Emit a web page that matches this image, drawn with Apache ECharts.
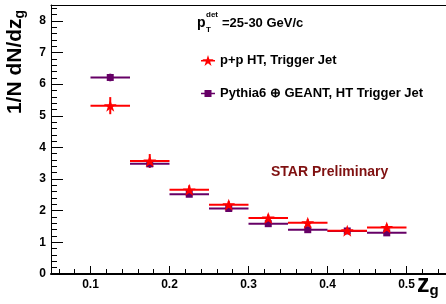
<!DOCTYPE html>
<html>
<head>
<meta charset="utf-8">
<script src="https://cdn.jsdelivr.net/npm/echarts@6/dist/echarts.min.js"></script>
<style>
  html, body { margin: 0; padding: 0; background: #fff; }
  #chart { width: 446px; height: 304px; }
</style>
</head>
<body>
<div id="chart"></div>
<script>
// bins in z_g
const binCenters = [0.125, 0.175, 0.225, 0.275, 0.325, 0.375, 0.425, 0.475]
const binHalfWidth = 0.025

// p+p HT, Trigger Jet
const ppValues = [5.32, 3.57, 2.66, 2.19, 1.77, 1.62, 1.37, 1.47]
const ppErrors = [0.27, 0.22, 0.14, 0.11, 0.11, 0.11, 0.08, 0.1]

// Pythia6 + GEANT
const simValues = [6.21, 3.48, 2.52, 2.07, 1.59, 1.40, 1.36, 1.30]
const simErrors = [0.12, 0.07, 0.05, 0.04, 0.04, 0.04, 0.04, 0.04]

const xMajor = [0.1, 0.2, 0.3, 0.4, 0.5]
const xMinor = [0.06, 0.08, 0.12, 0.14, 0.16, 0.18, 0.22, 0.24, 0.26, 0.28,
    0.32, 0.34, 0.36, 0.38, 0.42, 0.44, 0.46, 0.48, 0.52, 0.54]
const yMajor = [0, 1, 2, 3, 4, 5, 6, 7, 8]
const yMinor = [0.2, 0.4, 0.6, 0.8, 1.2, 1.4, 1.6, 1.8, 2.2, 2.4, 2.6, 2.8,
    3.2, 3.4, 3.6, 3.8, 4.2, 4.4, 4.6, 4.8, 5.2, 5.4, 5.6, 5.8, 6.2, 6.4, 6.6, 6.8,
    7.2, 7.4, 7.6, 7.8, 8.2, 8.4]

const ppName = 'p+p HT, Trigger Jet'
const simName = 'Pythia6 \u2295 GEANT, HT Trigger Jet'
const red = '#ff0000'
const purple = '#660066'
const font = '"Liberation Sans", Arial, Helvetica, sans-serif'

const starPath = 'M14,0L16.7,8.28L25.41,8.29L18.37,13.42L21.05,21.71L14,16.6L6.95,21.71L9.63,13.42L2.59,8.29L11.3,8.28Z'
const starIcon = 'path://M0,10L28,10L28,13L0,13Z ' + starPath
const squareIcon = 'path://M0,5.5L28,5.5L28,8.5L0,8.5Z M7,0L21,0L21,14L7,14Z'

const xRange = { min: 0.05, max: 0.55 }
const yRange = { min: 0, max: 8.5 }

function errData(values, errors) {
    return binCenters.map((x, i) => [x, values[i], errors[i]])
}

function renderErr(color) {
    return function (params, api) {
        const x = api.value(0)
        const y = api.value(1)
        const ey = api.value(2)
        const l = api.coord([x - binHalfWidth, y])
        const r = api.coord([x + binHalfWidth, y])
        const t = api.coord([x, y + ey])
        const b = api.coord([x, y - ey])
        return {
            type: 'group',
            children: [
                { type: 'line', shape: { x1: l[0], y1: l[1], x2: r[0], y2: r[1] }, style: { stroke: color, lineWidth: 2 } },
                { type: 'line', shape: { x1: t[0], y1: t[1], x2: b[0], y2: b[1] }, style: { stroke: color, lineWidth: 2 } },
            ],
        }
    }
}

// tick marks drawn as split lines inside thin strip grids along the frame
function tickStripX(gridIndex, values) {
    return {
        type: 'value', ...xRange, gridIndex,
        axisLine: { show: false },
        axisTick: { show: true, customValues: values, lineStyle: { color: 'rgba(0,0,0,0)' } },
        axisLabel: { show: false, customValues: values },
        splitLine: { show: true, lineStyle: { color: '#000', width: 1 } },
    }
}
function tickStripY(gridIndex, values) {
    return {
        type: 'value', ...yRange, gridIndex,
        axisLine: { show: false },
        axisTick: { show: true, customValues: values, lineStyle: { color: 'rgba(0,0,0,0)' } },
        axisLabel: { show: false, customValues: values },
        splitLine: { show: true, lineStyle: { color: '#000', width: 1 } },
    }
}
function hiddenX(gridIndex) {
    return { type: 'value', ...xRange, gridIndex, show: false }
}
function hiddenY(gridIndex) {
    return { type: 'value', ...yRange, gridIndex, show: false }
}

const labelStyle = { fontFamily: font, fontWeight: 'bold', fontSize: 12, color: '#000' }

const chart = echarts.init(document.getElementById('chart'))
chart.setOption({
    animation: false,
    grid: [
        { left: 51, right: 0, top: 5, bottom: 30 },
        { left: 51, right: 0, top: 266, height: 8 },
        { left: 51, right: 0, top: 269, height: 5 },
        { left: 51, width: 12, top: 5, bottom: 30 },
        { left: 51, width: 6, top: 5, bottom: 30 },
    ],
    xAxis: [
        {
            type: 'value',
            ...xRange,
            gridIndex: 0,
            axisLine: { show: true, lineStyle: { color: '#000', width: 2 } },
            axisTick: { show: false },
            axisLabel: { ...labelStyle, margin: 5, customValues: xMajor },
            splitLine: { show: false },
        },
        {
            type: 'value',
            ...xRange,
            gridIndex: 0,
            position: 'top',
            axisLine: { show: true, lineStyle: { color: '#000', width: 1 } },
            axisTick: { show: false },
            axisLabel: { show: false },
            splitLine: { show: false },
        },
        tickStripX(1, xMajor),
        tickStripX(2, xMinor),
        hiddenX(3),
        hiddenX(4),
    ],
    yAxis: [
        {
            type: 'value',
            ...yRange,
            gridIndex: 0,
            axisLine: { show: true, lineStyle: { color: '#000', width: 1 } },
            axisTick: { show: false },
            axisLabel: { ...labelStyle, margin: 5, customValues: yMajor },
            splitLine: { show: false },
        },
        hiddenY(1),
        hiddenY(2),
        tickStripY(3, yMajor),
        tickStripY(4, yMinor),
    ],
    legend: {
        left: 196,
        top: 49,
        orient: 'vertical',
        itemGap: 20,
        itemWidth: 14,
        itemHeight: 12,
        selectedMode: false,
        textStyle: { fontFamily: font, fontWeight: 'bold', fontSize: 13, color: '#000' },
        data: [
            { name: ppName, icon: starIcon },
            { name: simName, icon: squareIcon },
        ],
    },
    graphic: [
        // y axis title
        {
            type: 'text',
            x: 15,
            y: 62,
            rotation: Math.PI / 2,
            style: {
                text: '{a|1/N dN/dz}{b|g}',
                align: 'center',
                verticalAlign: 'middle',
                rich: {
                    a: { fontFamily: font, fontWeight: 'bold', fontSize: 21, fill: '#000' },
                    b: { fontFamily: font, fontWeight: 'bold', fontSize: 14, fill: '#000', padding: [10, 0, 0, 0] },
                },
            },
        },
        // x axis title
        {
            type: 'text',
            x: 417,
            y: 298,
            style: {
                text: '{a|z}{b|g}',
                align: 'left',
                verticalAlign: 'bottom',
                rich: {
                    a: { fontFamily: font, fontWeight: 'bold', fontSize: 25, fill: '#000' },
                    b: { fontFamily: font, fontWeight: 'bold', fontSize: 15, fill: '#000', padding: [10, 0, 0, 0] },
                },
            },
        },
        // pT^det label
        { type: 'text', x: 197, y: 23, style: { text: 'p', fontFamily: font, fontWeight: 'bold', fontSize: 14, fill: '#000', verticalAlign: 'middle' } },
        { type: 'text', x: 206, y: 15, style: { text: 'det', fontFamily: font, fontWeight: 'bold', fontSize: 8, fill: '#000', verticalAlign: 'middle' } },
        { type: 'text', x: 206, y: 30, style: { text: 'T', fontFamily: font, fontWeight: 'bold', fontSize: 8, fill: '#000', verticalAlign: 'middle' } },
        { type: 'text', x: 222, y: 23, style: { text: '=25-30 GeV/c', fontFamily: font, fontWeight: 'bold', fontSize: 13, fill: '#000', verticalAlign: 'middle' } },
        // preliminary tag
        { type: 'text', x: 271, y: 172, style: { text: 'STAR Preliminary', fontFamily: font, fontWeight: 'bold', fontSize: 14, fill: '#7f1010', verticalAlign: 'middle' } },
    ],
    series: [
        {
            name: 'simErr',
            type: 'custom',
            renderItem: renderErr(purple),
            data: errData(simValues, simErrors),
            encode: { x: 0, y: 1 },
            z: 2,
        },
        {
            name: 'ppErr',
            type: 'custom',
            renderItem: renderErr(red),
            data: errData(ppValues, ppErrors),
            encode: { x: 0, y: 1 },
            z: 3,
        },
        {
            name: simName,
            type: 'scatter',
            symbol: 'rect',
            symbolSize: 7,
            itemStyle: { color: purple, opacity: 1 },
            data: binCenters.map((x, i) => [x, simValues[i]]),
            z: 4,
        },
        {
            name: ppName,
            type: 'scatter',
            symbol: 'path://' + starPath,
            symbolSize: [13, 12],
            itemStyle: { color: red, opacity: 1 },
            data: binCenters.map((x, i) => [x, ppValues[i]]),
            z: 5,
        },
    ],
})
</script>
</body>
</html>
